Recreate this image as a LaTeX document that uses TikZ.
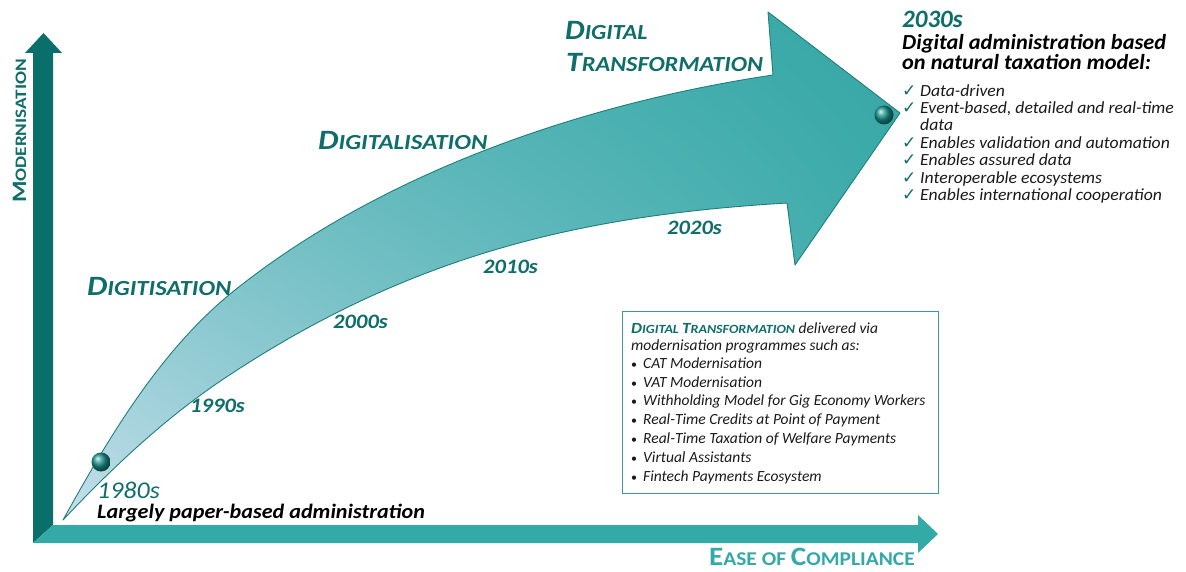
\documentclass[tikz,border=0pt]{standalone}
\usepackage{fontspec}
\setmainfont{Carlito}
\newfontfamily\symfont{DejaVu Sans}
\usetikzlibrary{shadings}
\definecolor{dteal}{HTML}{0F6E6A}
\definecolor{vaxis}{HTML}{0A6E6A}
\definecolor{haxis}{HTML}{34AAA8}
\definecolor{headteal}{HTML}{34A7A5}
\definecolor{midteal}{HTML}{58B6B9}
\definecolor{paleblue}{HTML}{C6DFEB}
\definecolor{edgeteal}{HTML}{1E7F7B}
\definecolor{boxc}{HTML}{3A9A97}
\definecolor{balltl}{HTML}{1A958F}
\definecolor{txtgrey}{HTML}{1A1A1A}
\newcommand{\SCap}[4]{{\fontsize{#3}{#3}\selectfont #1}{\fontsize{#4}{#4}\selectfont #2}}
\begin{document}
\begin{tikzpicture}[x=1pt,y=-1pt,
  phase/.style={text=dteal, font=\bfseries\itshape, inner sep=0pt, anchor=base west},
  decade/.style={text=dteal, font=\fontsize{20.5}{22}\selectfont\bfseries\itshape, inner sep=0pt, anchor=base west},
  blk/.style={text=black, font=\fontsize{20.5}{22}\selectfont\bfseries\itshape, inner sep=0pt, anchor=base west},
  chk/.style={text=dteal, font=\fontsize{17}{18}\selectfont\symfont, inner sep=0pt, anchor=base west},
  item/.style={text=txtgrey, font=\fontsize{17}{19}\selectfont\itshape, inner sep=0pt, anchor=base west},
  bitem/.style={text=txtgrey, font=\fontsize{15.5}{18}\selectfont\itshape, inner sep=0pt, anchor=base west},
  bdot/.style={text=txtgrey, font=\fontsize{12}{14}\selectfont, inner sep=0pt, anchor=base west},
  sphere/.style={shading=ball, ball color=balltl, circle, minimum size=19pt, inner sep=0pt}
]
\useasboundingbox[fill=white] (0,0) rectangle (1186,572);

% axes
\fill[vaxis] (33,543) -- (33,53) -- (25,53) -- (43.5,33) -- (62,53) -- (53,53) -- (53,525) -- cycle;
\fill[haxis] (33,543) -- (53,525) -- (918,525) -- (918,515) -- (938,534) -- (918,553) -- (918,543) -- cycle;

\node[rotate=90, anchor=base, text=dteal, inner sep=0pt, font=\bfseries] (ymod) at (26,131) {\scalebox{1.2}[1]{\SCap{M}{ODERNISATION}{20.5}{16}}};
\node[anchor=base east, text=haxis, inner sep=0pt, font=\bfseries] (xcomp) at (915,565) {\scalebox{1.1}[1]{\SCap{E}{ASE OF }{26.5}{19.5}\SCap{C}{OMPLIANCE}{26.5}{19.5}}};

% big curved arrow
\shade[upper left=midteal, upper right=headteal, lower left=paleblue, lower right=midteal!60!headteal,
  draw=edgeteal, line width=0.9pt, line join=round]
  (63,520) .. controls (109,437) and (161,349) .. (235,290)
  .. controls (383,172) and (585,103) .. (773,75)
  -- (768,12) -- (900,113) -- (795,265) -- (787,203)
  .. controls (587,215) and (413,252) .. (222,380)
  .. controls (164,419) and (111,469) .. (63,520)
  -- cycle;

\node[sphere] (b1) at (101,462) {};
\node[sphere] (b2) at (884,115) {};

% phase labels
\node[phase] (p1) at (87,295) {\scalebox{1.15}[1]{\SCap{D}{IGITISATION}{28}{21.5}}};
\node[phase] (p2) at (318,150) {\scalebox{1.16}[1]{\SCap{D}{IGITALISATION}{28}{21.5}}};
\node[phase] (p3a) at (565,40) {\scalebox{1.11}[1]{\SCap{D}{IGITAL}{28}{21.5}}};
\node[phase] (p3b) at (566,72) {\scalebox{1.13}[1]{\SCap{T}{RANSFORMATION}{28}{21.5}}};

% decades
\node[decade, font=\fontsize{24}{26}\selectfont\itshape] (d80) at (97,498) {\scalebox{1.08}[1]{1980s}};
\node[blk] (d80t) at (97,518) {\scalebox{1.08}[1]{Largely paper-based administration}};
\node[decade] (d90) at (190,412) {\scalebox{1.1}[1]{1990s}};
\node[decade] (d00) at (333,328) {\scalebox{1.1}[1]{2000s}};
\node[decade] (d10) at (483,273) {\scalebox{1.1}[1]{2010s}};
\node[decade] (d20) at (667,235) {\scalebox{1.1}[1]{2020s}};

% 2030s block
\node[decade, font=\fontsize{25}{27}\selectfont\bfseries\itshape] (d30) at (902,28) {2030s};
\node[blk, font=\fontsize{21.5}{24}\selectfont\bfseries\itshape] (d30a) at (902,50) {\scalebox{1.04}[1]{Digital administration based}};
\node[blk, font=\fontsize{21.5}{24}\selectfont\bfseries\itshape] (d30b) at (902,70) {\scalebox{1.04}[1]{on natural taxation model:}};

\foreach \n/\yy/\t in {c1/97/Data-driven, c2/114/{Event-based, detailed and real-time}, c4/149/Enables validation and automation, c5/166/Enables assured data, c6/184/Interoperable ecosystems, c7/201/Enables international cooperation}{
  \node[chk] (\n k) at (902,\yy) {✓};
  \node[item] (\n) at (920,\yy) {\scalebox{1.04}[1]{\t}};
}
\node[item] (c3) at (920,131) {\scalebox{1.04}[1]{data}};

% box
\node[draw=boxc, line width=1pt, minimum width=316pt, minimum height=182pt, anchor=north west, inner sep=0pt] (box) at (622,311) {};
\node[bitem] (bl1) at (631,333) {{\color{dteal}\bfseries\scalebox{1.12}[1]{\SCap{D}{IGITAL }{15.5}{12.5}\SCap{T}{RANSFORMATION}{15.5}{12.5}}} delivered via};
\node[bitem] (bl2) at (631,350) {modernisation programmes such as:};
\foreach \n/\yy/\t in {e1/368/CAT Modernisation, e2/387/VAT Modernisation, e3/405/Withholding Model for Gig Economy Workers, e4/424/Real-Time Credits at Point of Payment, e5/443/Real-Time Taxation of Welfare Payments, e6/462/Virtual Assistants, e7/481/Fintech Payments Ecosystem}{
  \node[bdot] (\n d) at (631,\yy) {•};
  \node[bitem] (\n) at (643,\yy) {\t};
}
\end{tikzpicture}
\end{document}
